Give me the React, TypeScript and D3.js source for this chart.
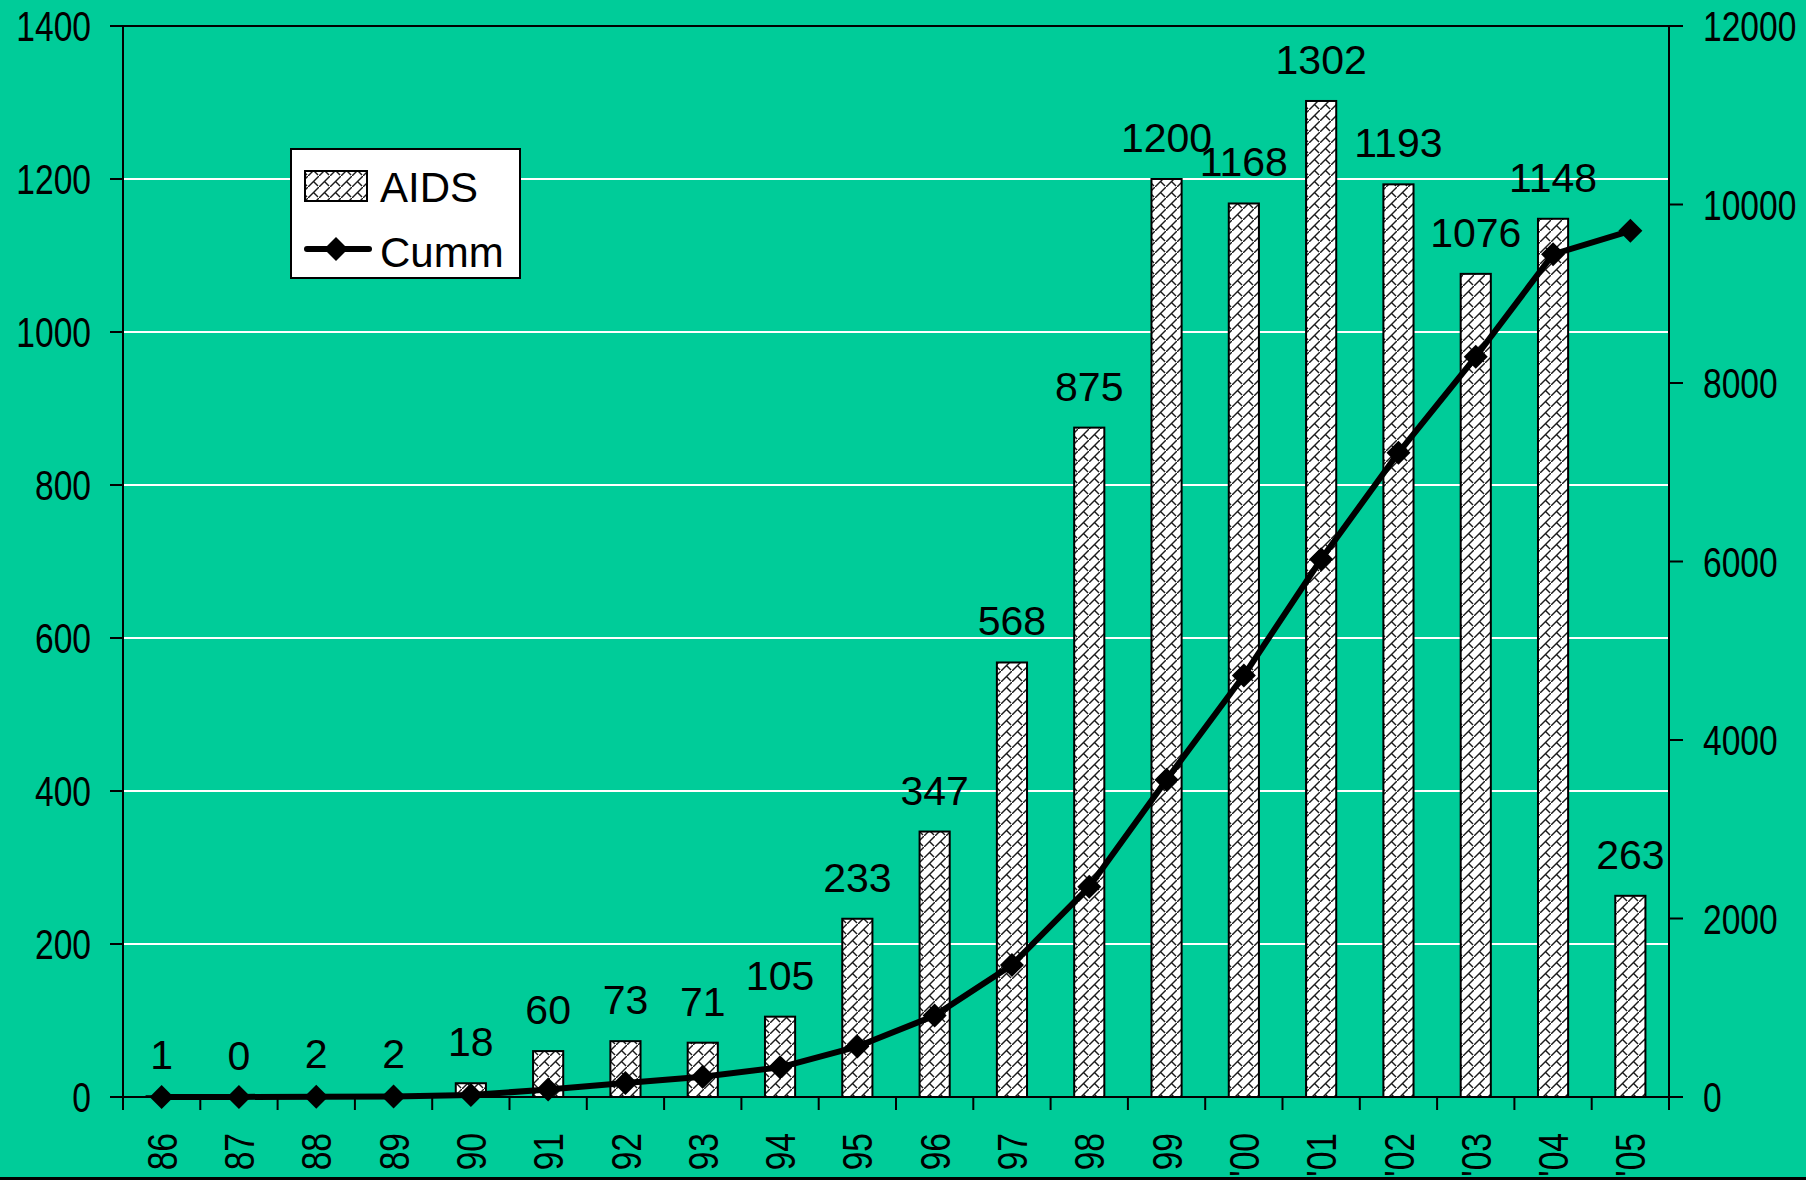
import React from "react";
import * as d3 from "d3";

const categories = ["86","87","88","89","90","91","92","93","94","95","96","97","98","99","'00","'01","'02","'03","'04","'05"];
const aidsValues = [1,0,2,2,18,60,73,71,105,233,347,568,875,1200,1168,1302,1193,1076,1148,263];
const cummValues = [1,1,3,5,23,83,156,227,332,565,912,1480,2355,3555,4723,6025,7218,8294,9442,9705];
const leftTicks = [0,200,400,600,800,1000,1200,1400];
const rightTicks = [0,2000,4000,6000,8000,10000,12000];
const gridValues = [200,400,600,800,1000,1200];

const W = 1806, H = 1180;
const L = 123, R = 1669, T = 26, B = 1097;
const BG = "#00CC99";
const ARIAL = "'Liberation Sans', Arial, sans-serif";
const NX = 0.8;

function NText(props: { x: number; y: number; anchor?: string; size: number; children: React.ReactNode }) {
  const { x, y, anchor = "start", size, children } = props;
  return (
    <g transform={`translate(${x},${y}) scale(${NX},1)`}>
      <text x={0} y={0} textAnchor={anchor} fontFamily={ARIAL} fontSize={size}>{children}</text>
    </g>
  );
}

export default function App() {
  const x = d3.scaleBand<string>().domain(categories).range([L, R]).padding(0);
  const yL = d3.scaleLinear().domain([0, 1400]).range([B, T]);
  const yR = d3.scaleLinear().domain([0, 12000]).range([B, T]);
  const bw = x.bandwidth();
  const barW = bw * 0.39;
  const cx = (c: string) => (x(c) as number) + bw / 2;

  const line = d3.line<number>()
    .x((_, i) => cx(categories[i]))
    .y((d) => yR(d))
    .curve(d3.curveLinear);

  const diamond = (px: number, py: number, r: number) =>
    `M${px},${py - r}L${px + r},${py}L${px},${py + r}L${px - r},${py}Z`;

  return (
    <svg width={W} height={H} style={{ position: "fixed", left: 0, top: 0, display: "block" }}>
      <defs>
        <pattern id="shingle" width="11" height="11" patternUnits="userSpaceOnUse">
          <rect width="11" height="11" fill="#fff" />
          <path d="M-1,12 L12,-1" stroke="#1a1a1a" strokeWidth="1.4" />
          <path d="M5.5,5.5 L10,10" stroke="#1a1a1a" strokeWidth="1.4" />
        </pattern>
      </defs>
      <rect x={0} y={0} width={W} height={H} fill={BG} />
      <rect x={0} y={1177} width={W} height={3} fill="#000" />

      {gridValues.map((v) => (
        <line key={v} x1={L} x2={R} y1={yL(v)} y2={yL(v)} stroke="#fff" strokeWidth={2} />
      ))}
      <line x1={L} x2={R} y1={T} y2={T} stroke="#000" strokeWidth={2} />

      {categories.map((c, i) => (
        <rect key={c} x={cx(c) - barW / 2} y={yL(aidsValues[i])} width={barW}
          height={B - yL(aidsValues[i])} fill="url(#shingle)" stroke="#000" strokeWidth={2} />
      ))}

      <line x1={L} x2={L} y1={T} y2={B} stroke="#000" strokeWidth={2} />
      <line x1={R} x2={R} y1={T} y2={B} stroke="#000" strokeWidth={2} />
      <line x1={L - 13} x2={R + 14} y1={B} y2={B} stroke="#000" strokeWidth={2} />
      {leftTicks.map((v) => (
        <g key={"l" + v}>
          <line x1={L - 13} x2={L} y1={yL(v)} y2={yL(v)} stroke="#000" strokeWidth={2} />
          <NText x={91} y={yL(v) + 15} anchor="end" size={42}>{v}</NText>
        </g>
      ))}
      {rightTicks.map((v) => (
        <g key={"r" + v}>
          <line x1={R} x2={R + 14} y1={yR(v)} y2={yR(v)} stroke="#000" strokeWidth={2} />
          <NText x={1703} y={yR(v) + 15} anchor="start" size={42}>{v}</NText>
        </g>
      ))}
      {categories.map((c) => (
        <line key={"t" + c} x1={x(c) as number} x2={x(c) as number} y1={B} y2={B + 13} stroke="#000" strokeWidth={2} />
      ))}
      <line x1={R} x2={R} y1={B} y2={B + 13} stroke="#000" strokeWidth={2} />
      {categories.map((c) => (
        <g key={"x" + c} transform={`translate(${cx(c)},1133) rotate(-90) scale(${NX},1)`}>
          <text x={0} y={0} dy="0.36em" textAnchor="end" fontFamily={ARIAL} fontSize={42}>{c}</text>
        </g>
      ))}

      <path d={line(cummValues) || ""} fill="none" stroke="#000" strokeWidth={6} strokeLinejoin="round" />
      {cummValues.map((v, i) => (
        <path key={"m" + i} d={diamond(cx(categories[i]), yR(v), 12)} fill="#000" />
      ))}

      {categories.map((c, i) => (
        <text key={"d" + c} x={cx(c)} y={yL(aidsValues[i]) - 27} textAnchor="middle"
          fontFamily={ARIAL} fontSize={41}>{aidsValues[i]}</text>
      ))}

      <rect x={291} y={149} width={229} height={129} fill="#fff" stroke="#000" strokeWidth={2} />
      <rect x={305} y={171} width={62} height={30} fill="url(#shingle)" stroke="#000" strokeWidth={2} />
      <text x={380} y={202} fontFamily={ARIAL} fontSize={42}>AIDS</text>
      <line x1={307} x2={369} y1={249} y2={249} stroke="#000" strokeWidth={6} strokeLinecap="round" />
      <path d={diamond(336, 249, 12)} fill="#000" />
      <text x={380} y={267} fontFamily={ARIAL} fontSize={42}>Cumm</text>
    </svg>
  );
}
